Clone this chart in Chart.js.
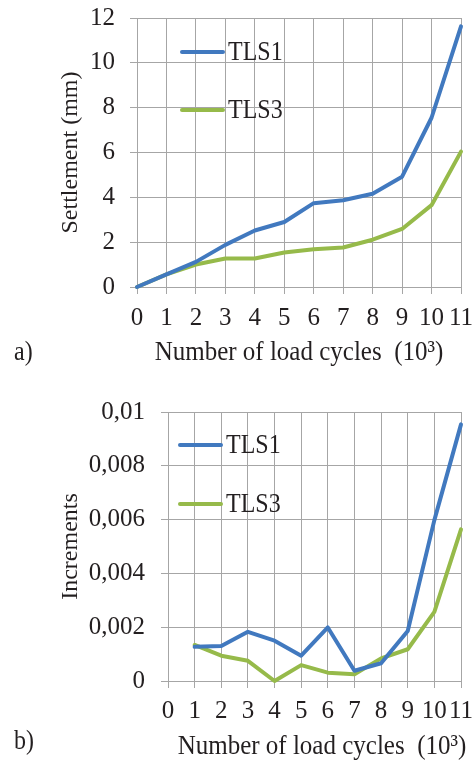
<!DOCTYPE html>
<html>
<head>
<meta charset="utf-8">
<title>Settlement and increments</title>
<script src="https://cdn.jsdelivr.net/npm/chart.js@4.4.1/dist/chart.umd.min.js"></script>
<style>
    html, body { margin: 0; padding: 0; background: #ffffff; }
    .panel { width: 476px; }
    canvas { display: block; }
</style>
</head>
<body>
<div class="panel"><canvas id="settlementChart" width="476" height="380"></canvas></div>
<div class="panel"><canvas id="incrementChart" width="476" height="381"></canvas></div>
<script>
// Load cycles (x 10^3)
const cycles = ['0', '1', '2', '3', '4', '5', '6', '7', '8', '9', '10', '11'];

// a) Settlement (mm)
const settlementTLS1 = [0, 0.56, 1.12, 1.88, 2.52, 2.9, 3.74, 3.87, 4.16, 4.92, 7.55, 11.63];
const settlementTLS3 = [0, 0.56, 1.0, 1.27, 1.27, 1.54, 1.68, 1.76, 2.11, 2.59, 3.65, 6.04];

// b) Increments (no value at cycle 0)
const incrementTLS1 = [null, 0.00127, 0.0013, 0.00183, 0.0015, 0.00094, 0.00199, 0.00038, 0.00066, 0.00186, 0.00598, 0.00954];
const incrementTLS3 = [null, 0.00134, 0.00094, 0.00075, 0, 0.00059, 0.00031, 0.00025, 0.00084, 0.00118, 0.00257, 0.00564];

const settlementTicks = [0, 2, 4, 6, 8, 10, 12];
const incrementTicks = [0, 0.002, 0.004, 0.006, 0.008, 0.01];

const serif = "'Liberation Serif', 'Times New Roman', serif";
Chart.defaults.font.family = serif;
Chart.defaults.font.size = 25;
Chart.defaults.color = '#231F20';

const colors = {
    blue: '#4179BF',
    green: '#96BA4A',
    grid: '#A6A6A6',
    text: '#231F20'
};

// Text slightly taller than wide, like the printed figure
function drawText(ctx, text, x, y, align) {
    ctx.save();
    ctx.translate(x, y);
    ctx.scale(1, 1.12);
    ctx.textAlign = align;
    ctx.fillText(text, 0, 0);
    ctx.restore();
}

// Panel letter, x axis title and the small legend inside the plot
const captions = {
    id: 'captions',
    afterDraw(chart, args, opts) {
        const ctx = chart.ctx;
        ctx.save();
        ctx.fillStyle = colors.text;
        ctx.font = '24px ' + serif;
        ctx.textBaseline = 'middle';
        drawText(ctx, opts.panel, opts.panelX, opts.panelY, 'left');
        ctx.font = '25px ' + serif;
        drawText(ctx, opts.xTitle, opts.xTitleX, opts.xTitleY, 'center');

        ctx.font = '24px ' + serif;
        chart.data.datasets.forEach(function(ds, i) {
            const y = opts.legendY[i];
            ctx.strokeStyle = ds.borderColor;
            ctx.lineWidth = 4;
            ctx.lineCap = 'round';
            ctx.beginPath();
            ctx.moveTo(opts.legendX, y);
            ctx.lineTo(opts.legendX + 41, y);
            ctx.stroke();
            drawText(ctx, ds.label, opts.legendX + 46, y + 1, 'left');
        });
        ctx.restore();
    }
};

function lineSet(label, data, color) {
    return {
        label: label,
        data: data,
        borderColor: color,
        backgroundColor: color,
        borderWidth: 4,
        borderCapStyle: 'round',
        borderJoinStyle: 'round',
        pointRadius: 0,
        tension: 0,
        clip: 6,
        spanGaps: false
    };
}

function makeChart(id, cfg) {
    const el = document.getElementById(id);
    return new Chart(el.getContext('2d'), {
        type: 'line',
        data: {
            labels: cycles,
            datasets: [
                lineSet('TLS1', cfg.tls1, colors.blue),
                lineSet('TLS3', cfg.tls3, colors.green)
            ]
        },
        plugins: [captions],
        options: {
            responsive: false,
            animation: false,
            layout: {
                padding: { left: 0, top: cfg.top, right: 15, bottom: 0 }
            },
            plugins: {
                legend: { display: false },
                tooltip: { enabled: false },
                captions: cfg.captions
            },
            scales: {
                x: {
                    type: 'category',
                    offset: false,
                    grid: { color: colors.grid, lineWidth: 1, tickLength: 7 },
                    border: { color: colors.grid },
                    ticks: {
                        padding: cfg.xTickPad,
                        maxRotation: 0,
                        autoSkip: false
                    },
                    afterFit: function(scale) {
                        scale.height = cfg.xHeight;
                        scale.paddingLeft = 0;
                        scale.paddingRight = 0;
                    }
                },
                y: {
                    min: cfg.ticks[0],
                    max: cfg.ticks[cfg.ticks.length - 1],
                    grid: { color: colors.grid, lineWidth: 1, tickLength: 7 },
                    border: { color: colors.grid },
                    afterBuildTicks: function(scale) {
                        scale.ticks = cfg.ticks.map(function(v) { return { value: v }; });
                    },
                    ticks: {
                        padding: cfg.yTickPad,
                        callback: cfg.format
                    },
                    title: {
                        display: true,
                        text: cfg.yTitle,
                        font: { size: 24 },
                        padding: { top: 56, bottom: 0 }
                    },
                    afterFit: function(scale) {
                        scale.width = cfg.yWidth;
                        scale.paddingTop = 0;
                        scale.paddingBottom = 0;
                    }
                }
            }
        }
    });
}

makeChart('settlementChart', {
    tls1: settlementTLS1,
    tls3: settlementTLS3,
    ticks: settlementTicks,
    top: 18,
    yWidth: 137,
    xHeight: 93,
    xTickPad: 9,
    yTickPad: 15,
    yTitle: 'Settlement (mm)',
    format: function(value) { return String(value); },
    captions: {
        panel: 'a)', panelX: 14, panelY: 353,
        xTitle: 'Number of load cycles  (10³)', xTitleX: 299, xTitleY: 353,
        legendX: 182, legendY: [52, 110]
    }
});

makeChart('incrementChart', {
    tls1: incrementTLS1,
    tls3: incrementTLS3,
    ticks: incrementTicks,
    top: 32,
    yWidth: 168,
    xHeight: 80,
    xTickPad: 8,
    yTickPad: 16,
    yTitle: 'Increments',
    format: function(value) {
        return value === 0 ? '0' : String(+value.toFixed(3)).replace('.', ',');
    },
    captions: {
        panel: 'b)', panelX: 14, panelY: 362,
        xTitle: 'Number of load cycles  (10³)', xTitleX: 322, xTitleY: 367,
        legendX: 180, legendY: [65, 124]
    }
});
</script>
</body>
</html>
